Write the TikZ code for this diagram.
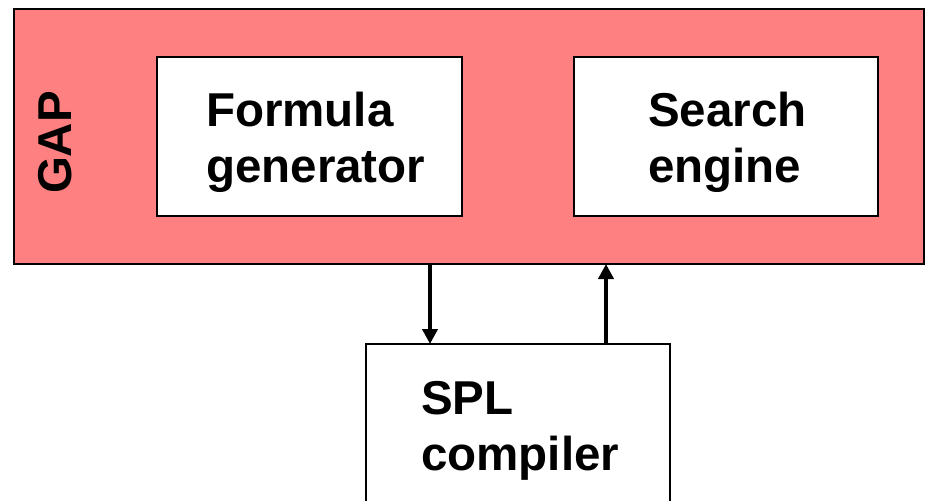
\documentclass[tikz,border=0pt]{standalone}
\usepackage{fontspec}
\setmainfont{Liberation Sans}
\usetikzlibrary{arrows.meta}
\definecolor{gapfill}{RGB}{255,128,128}
\tikzset{
  box/.style={draw=black, line width=1.8pt, fill=white, anchor=north west, inner sep=0pt, outer sep=0pt},
  gapbox/.style={box, fill=gapfill},
  lbl/.style={font=\fontsize{47.5}{56}\selectfont\bfseries, align=left, inner sep=0pt, anchor=west},
  arr/.style={line width=4.5pt, -{Triangle[width=15pt,length=15pt]}}
}
\begin{document}
\begin{tikzpicture}[x=1pt,y=-1pt]
\clip (0,0) rectangle (925,500);
\fill[white] (0,0) rectangle (925,500);
\node[gapbox, minimum width=910pt, minimum height=255pt] (gap) at (14,9) {};
\node[box, minimum width=305pt, minimum height=159pt] (fg) at (157,57) {};
\node[box, minimum width=304pt, minimum height=159pt] (se) at (574,57) {};
\node[box, minimum width=304pt, minimum height=190pt] (spl) at (366,344) {};
\node[lbl] (ftxt) at (206,142) {Formula\\generator};
\node[lbl] (stxt) at (648,142) {Search\\engine};
\node[lbl] (ctxt) at (421,431) {SPL\\compiler};
\node[lbl, anchor=center, rotate=90] (gtxt) at (55,142.5) {GAP};
\coordinate (xa) at (430,0);
\coordinate (xb) at (606,0);
\draw[arr] (gap.south -| xa) -- (spl.north -| xa);
\draw[arr] (spl.north -| xb) -- (gap.south -| xb);
\end{tikzpicture}
\end{document}
